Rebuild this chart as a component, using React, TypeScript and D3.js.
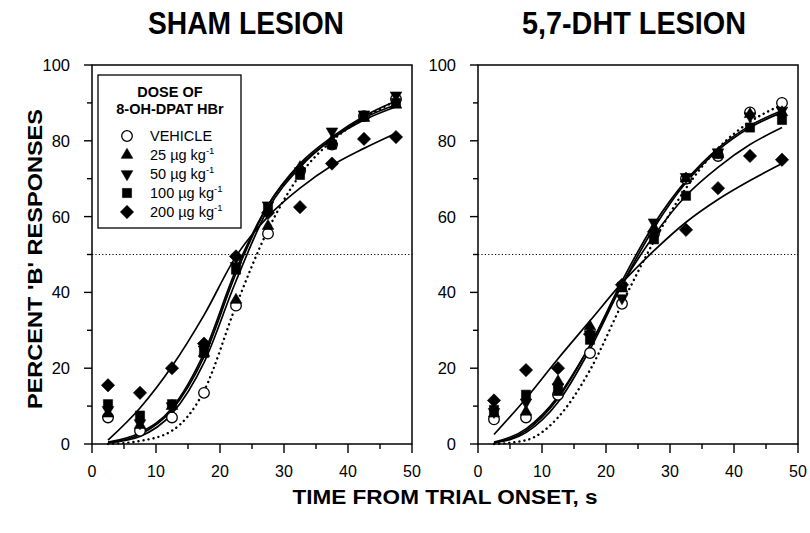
import React from "react";
import * as d3 from "d3";

// ---------- data ----------
const timeBins = [2.5, 7.5, 12.5, 17.5, 22.5, 27.5, 32.5, 37.5, 42.5, 47.5];
const xTicks = [0, 10, 20, 30, 40, 50];
const yTicks = [0, 20, 40, 60, 80, 100];
const panelTitles = ["SHAM LESION", "5,7-DHT LESION"];
const doseLabels = ["VEHICLE", "25", "50", "100", "200"];
const doseSymbols = ["circle", "triangleUp", "triangleDown", "square", "diamond"];

// observed points: SHAM
const shamVehicle = [7, 3.5, 7, 13.5, 36.5, 55.5, 72, 79, 86.5, 91];
const sham25 = [8, 5, 10, 24, 38, 57.5, 73, 80, 86, 89.5];
const sham50 = [9, 5.5, 10, 25, 47, 63, 72, 82.5, 87, 92];
const sham100 = [10.5, 7.5, 10.5, 24, 46, 62, 71, 79, 86.5, 90];
const sham200 = [15.5, 13.5, 20, 26.5, 49.5, 61, 62.5, 74, 80.5, 81];

// observed points: 5,7-DHT
const dhtVehicle = [6.5, 7, 13, 24, 37, 55.5, 70, 76, 87.5, 90];
const dht25 = [8, 8.5, 16.5, 31, 41, 57, 70, 76.5, 87, 87.5];
const dht50 = [8.5, 11, 15, 29, 38.5, 58.5, 70.5, 77, 86.5, 88];
const dht100 = [9, 13, 14, 27.5, 41.5, 54, 65.5, 76.5, 83.5, 85.5];
const dht200 = [11.5, 19.5, 20, 29, 42, 56, 56.5, 67.5, 76, 75];

// fitted curves read at the same time bins: SHAM
const shamFitVehicle = [0, 0.8, 3.5, 14, 36.5, 56.5, 71, 80, 86, 90.5];
const shamFit25 = [0.3, 2, 8, 21.5, 43, 62, 73, 80.5, 86, 89.5];
const shamFit50 = [0.3, 2.5, 9, 23, 45, 63, 74, 81, 86.5, 90.5];
const shamFit100 = [0.5, 3, 9.5, 24, 46, 63, 73.5, 80.5, 85.5, 89];
const shamFit200 = [1, 9.5, 20.5, 34, 49.5, 60, 67.5, 73.5, 78, 82];

// fitted curves: 5,7-DHT
const dhtFitVehicle = [0, 1, 7, 19.5, 37, 53.5, 67.5, 78, 85, 89.5];
const dhtFit25 = [0.3, 3, 11, 25, 42, 57, 69, 77.5, 83.5, 87.5];
const dhtFit50 = [0.3, 3.5, 12, 26, 43, 58, 69.5, 78, 84, 88];
const dhtFit100 = [0.5, 4, 12.5, 26, 42, 55, 65.5, 73, 79, 83.5];
const dhtFit200 = [2.5, 12, 22.5, 32.5, 42.5, 51, 58.5, 64.5, 69.5, 74];

const panels = [
  {
    title: panelTitles[0],
    points: [shamVehicle, sham25, sham50, sham100, sham200],
    fits: [shamFitVehicle, shamFit25, shamFit50, shamFit100, shamFit200],
  },
  {
    title: panelTitles[1],
    points: [dhtVehicle, dht25, dht50, dht100, dht200],
    fits: [dhtFitVehicle, dhtFit25, dhtFit50, dhtFit100, dhtFit200],
  },
];

// ---------- layout ----------
const W = 810;
const H = 533;
const panelLeft = [92, 478];
const plotW = 320;
const top = 65;
const bottom = 444;
const FONT = "'Liberation Sans', Arial, Helvetica, sans-serif";
const NARROW = "'Liberation Sans Narrow', 'Arial Narrow', 'Liberation Sans', Arial, sans-serif";

function symbolPath(kind: string): { d: string; rotate: number } {
  if (kind === "circle") return { d: d3.symbol(d3.symbolCircle, Math.PI * 5.3 * 5.3)() as string, rotate: 0 };
  if (kind === "triangleUp") return { d: d3.symbol(d3.symbolTriangle, 58)() as string, rotate: 0 };
  if (kind === "triangleDown") return { d: d3.symbol(d3.symbolTriangle, 58)() as string, rotate: 180 };
  if (kind === "square") return { d: d3.symbol(d3.symbolSquare, 84)() as string, rotate: 0 };
  return { d: d3.symbol(d3.symbolSquare, 88)() as string, rotate: 45 };
}

function Marker({ kind, x, y }: { kind: string; x: number; y: number }) {
  const s = symbolPath(kind);
  const open = kind === "circle";
  return (
    <path
      d={s.d}
      transform={`translate(${x},${y}) rotate(${s.rotate})`}
      fill={open ? "#fff" : "#000"}
      stroke="#000"
      strokeWidth={open ? 1.3 : 0.6}
    />
  );
}

function Panel({ index }: { index: number }) {
  const p = panels[index];
  const left = panelLeft[index];
  const x = d3.scaleLinear().domain([0, 50]).range([left, left + plotW]);
  const y = d3.scaleLinear().domain([0, 100]).range([bottom, top]);
  const line = d3
    .line<number>()
    .x((_, i) => x(timeBins[i]))
    .y((v) => y(v))
    .curve(d3.curveMonotoneX);
  const xMinor = d3.range(0, 51, 5);
  const yMinor = d3.range(0, 101, 10);
  const cx = index === 0 ? 246 : 634;
  return (
    <g>
      <text
        x={cx}
        y={34}
        textAnchor="middle"
        fontFamily={NARROW}
        fontWeight="bold"
        fontSize={32}
        textLength={index === 0 ? 196 : 224}
        lengthAdjust="spacingAndGlyphs"
      >
        {p.title}
      </text>
      {/* 50% reference line */}
      <line
        x1={x(0)}
        x2={x(50)}
        y1={y(50)}
        y2={y(50)}
        stroke="#000"
        strokeWidth={1}
        strokeDasharray="1.2,2.2"
      />
      {/* fitted curves */}
      {p.fits.map((f, i) => (
        <path
          key={"f" + i}
          d={line(f) as string}
          fill="none"
          stroke="#000"
          strokeWidth={i === 0 ? 2.4 : 1.7}
          strokeDasharray={i === 0 ? "0.1,5" : undefined}
          strokeLinecap={i === 0 ? "round" : "butt"}
        />
      ))}
      {/* points */}
      {p.points.map((s, i) =>
        s.map((v, j) => <Marker key={`m${i}-${j}`} kind={doseSymbols[i]} x={x(timeBins[j])} y={y(v)} />)
      )}
      {/* frame */}
      <rect x={x(0)} y={y(100)} width={plotW} height={bottom - top} fill="none" stroke="#000" strokeWidth={1.5} />
      {/* x ticks */}
      {xMinor.map((t) => (
        <line
          key={"xt" + t}
          x1={x(t)}
          x2={x(t)}
          y1={bottom}
          y2={bottom + (t % 10 === 0 ? 9 : 5)}
          stroke="#000"
          strokeWidth={1.4}
        />
      ))}
      {xTicks.map((t) => (
        <text key={"xl" + t} x={x(t)} y={477} textAnchor="middle" fontFamily={FONT} fontSize={16}>
          {t}
        </text>
      ))}
      {/* y ticks */}
      {yMinor.map((t) => (
        <line
          key={"yt" + t}
          x1={left}
          x2={left - (t % 20 === 0 ? 8 : 5)}
          y1={y(t)}
          y2={y(t)}
          stroke="#000"
          strokeWidth={1.4}
        />
      ))}
      {yTicks.map((t) => (
        <text key={"yl" + t} x={left - 22} y={y(t) + 6} textAnchor="end" fontFamily={FONT} fontSize={16.5}>
          {t}
        </text>
      ))}
    </g>
  );
}

function Legend() {
  const bx = 98;
  const by = 75;
  const bw = 143;
  const bh = 153;
  const rowY = [141, 160, 179, 198, 217];
  return (
    <g>
      <rect x={bx} y={by} width={bw} height={bh} fill="#fff" stroke="#000" strokeWidth={1.3} />
      <text x={170} y={97} textAnchor="middle" fontFamily={FONT} fontWeight="bold" fontSize={14.5}>
        DOSE OF
      </text>
      <text x={170} y={114} textAnchor="middle" fontFamily={FONT} fontWeight="bold" fontSize={14.5}>
        8-OH-DPAT HBr
      </text>
      {doseLabels.map((lab, i) => (
        <g key={lab}>
          <Marker kind={doseSymbols[i]} x={127} y={rowY[i] - 5} />
          <text x={150} y={rowY[i]} fontFamily={FONT} fontSize={14.5}>
            {i === 0 ? (
              lab
            ) : (
              <>
                {lab} µg kg
                <tspan fontSize={9.5} dy={-6}>
                  -1
                </tspan>
              </>
            )}
          </text>
        </g>
      ))}
    </g>
  );
}

export default function App() {
  return (
    <svg
      width={W}
      height={H}
      viewBox={`0 0 ${W} ${H}`}
      style={{ position: "absolute", left: 0, top: 0, background: "#fff" }}
    >
      <rect x={0} y={0} width={W} height={H} fill="#fff" />
      <Panel index={0} />
      <Panel index={1} />
      <Legend />
      <text
        transform="translate(42,259) rotate(-90)"
        textAnchor="middle"
        fontFamily={FONT}
        fontWeight="bold"
        fontSize={20}
        textLength={300}
        lengthAdjust="spacingAndGlyphs"
      >
        PERCENT 'B' RESPONSES
      </text>
      <text
        x={445}
        y={504}
        textAnchor="middle"
        fontFamily={FONT}
        fontWeight="bold"
        fontSize={20}
        textLength={305}
        lengthAdjust="spacingAndGlyphs"
      >
        TIME FROM TRIAL ONSET, s
      </text>
    </svg>
  );
}
